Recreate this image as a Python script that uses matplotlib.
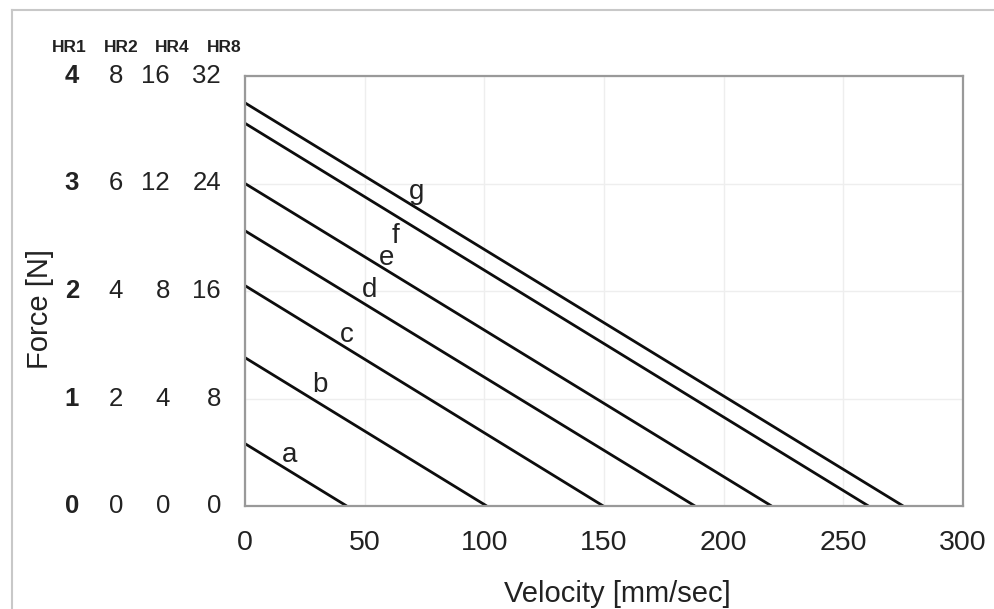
import matplotlib.pyplot as plt
from matplotlib.transforms import blended_transform_factory
from matplotlib.lines import Line2D

plt.rcParams['font.family'] = ['Liberation Sans', 'DejaVu Sans']

# force/velocity lines: (force at v=0 [HR1 N], velocity at F=0 [mm/sec])
labels = ['a', 'b', 'c', 'd', 'e', 'f', 'g']
force0 = [0.58, 1.38, 2.05, 2.56, 3.0, 3.56, 3.75]
vel0 = [42.5, 101, 149.7, 188, 220, 260.5, 275]
# where the letters sit
lab_x = [18.8, 31.3, 42.6, 52.2, 59.3, 62.7, 71.5]
lab_y = [0.47, 1.13, 1.59, 2.01, 2.31, 2.51, 2.92]

# extra force scales
heads = ['HR1', 'HR2', 'HR4', 'HR8']
hr1 = [0, 1, 2, 3, 4]
hr2 = [0, 2, 4, 6, 8]
hr4 = [0, 4, 8, 12, 16]
hr8 = [0, 8, 16, 24, 32]
xticks = [0, 50, 100, 150, 200, 250, 300]

fig = plt.figure(figsize=(9.94, 6.09), dpi=100)
ax = fig.add_axes([245/994, 1 - 506/609, 718/994, 430/609])

for f0, v0 in zip(force0, vel0):
    ax.plot([0, v0], [f0, 0], color='#0d0d0d', lw=2.0, solid_capstyle='butt')
for lab, x, y in zip(labels, lab_x, lab_y):
    ax.text(x, y, lab, fontsize=20, ha='center', va='center', color='#222222')

ax.set_xlim(0, 300)
ax.set_ylim(0, 4)
ax.set_xticks(xticks)
ax.set_yticks(hr1)
ax.set_yticklabels([])
ax.tick_params(length=0, labelsize=20.5, pad=17, colors='#222222')
ax.grid(True, color='#eeeeee', lw=1)
ax.set_axisbelow(True)
for s in ax.spines.values():
    s.set_color('#999999')
    s.set_linewidth(1.6)

ax.set_xlabel('Velocity [mm/sec]', fontsize=21, color='#222222')
ax.xaxis.set_label_coords(0.518, -0.172)
fig.text(40/994, 1 - 309/609, 'Force [N]', rotation=90, fontsize=21,
         ha='center', va='center', color='#222222')

# multiple y scales on the left
tr = blended_transform_factory(fig.transFigure, ax.transData)
cols = [(hr1, 72, 'center', 'bold'), (hr2, 116, 'center', 'normal'),
        (hr4, 170, 'right', 'normal'), (hr8, 221, 'right', 'normal')]
for vals, px, ha, w in cols:
    for y, v in zip(hr1, vals):
        ax.text(px/994, y, str(v), transform=tr, fontsize=18.5, ha=ha, va='center',
                fontweight=w, color='#222222', clip_on=False)
head_x = [69, 121, 172, 224]
for h, px in zip(heads, head_x):
    fig.text(px/994, 1 - 48/609, h, fontsize=12.5, fontweight='bold',
             ha='center', va='center', color='#222222')

# light frame of the original picture
fig.add_artist(Line2D([12/994, 1], [1 - 10/609, 1 - 10/609], transform=fig.transFigure,
                      color='#c8c8c8', lw=1.5))
fig.add_artist(Line2D([12/994, 12/994], [0, 1 - 10/609], transform=fig.transFigure,
                      color='#c8c8c8', lw=1.5))

fig.savefig('out.png', dpi=100)
